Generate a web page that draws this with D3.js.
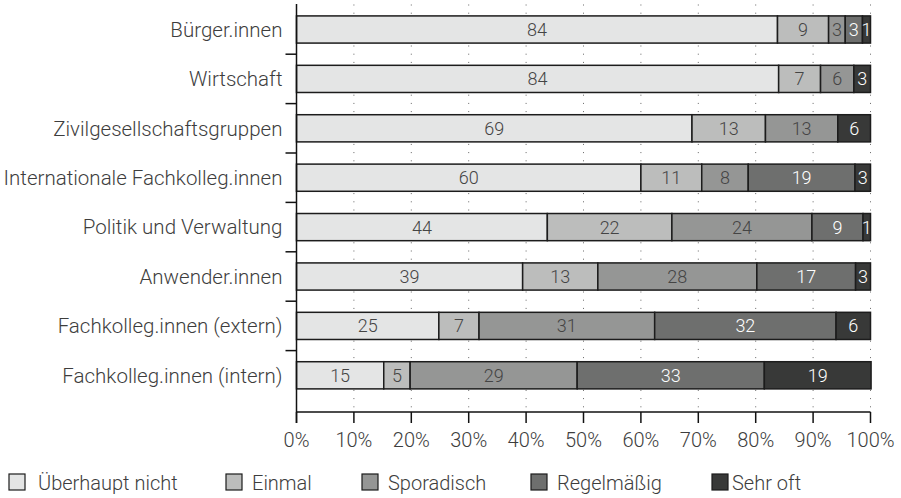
<!DOCTYPE html>
<html>
<head>
<meta charset="utf-8">
<script src="https://cdn.jsdelivr.net/npm/d3@7"></script>
<style>
  body { margin: 0; background: #fff; }
  text { font-family: Roboto, "Liberation Sans", sans-serif; font-weight: 300; }
</style>
</head>
<body>
<div id="chart"></div>
<script>
// categories, top to bottom
var categories = [
    "Bürger.innen",
    "Wirtschaft",
    "Zivilgesellschaftsgruppen",
    "Internationale Fachkolleg.innen",
    "Politik und Verwaltung",
    "Anwender.innen",
    "Fachkolleg.innen (extern)",
    "Fachkolleg.innen (intern)"
];

var series = ["Überhaupt nicht", "Einmal", "Sporadisch", "Regelmäßig", "Sehr oft"];

// shares in percent, one array per series
var ueberhauptNicht = [83.8, 84.0, 68.9, 60.0, 43.7, 39.4, 24.8, 15.2];
var einmal          = [8.9, 7.3, 12.8, 10.6, 21.7, 13.1, 7.0, 4.6];
var sporadisch      = [2.9, 5.8, 12.6, 8.1, 24.4, 27.7, 30.6, 29.1];
var regelmaessig    = [3.0, 0, 0, 18.6, 8.9, 17.2, 31.6, 32.6];
var sehrOft         = [1.4, 2.9, 5.7, 2.7, 1.3, 2.6, 6.0, 18.6];

var xTicks = [0, 10, 20, 30, 40, 50, 60, 70, 80, 90, 100];

var fills = ["#e4e5e5", "#bcbdbc", "#959695", "#6e6f6e", "#383938"];
var labelColors = ["#444", "#444", "#444", "#ffffff", "#ffffff"];

var width = 901, height = 498;
var svg = d3.select("#chart").append("svg")
    .attr("width", width)
    .attr("height", height);

var rows = categories.map(function (c, i) {
    return {
        name: c,
        "Überhaupt nicht": ueberhauptNicht[i],
        "Einmal": einmal[i],
        "Sporadisch": sporadisch[i],
        "Regelmäßig": regelmaessig[i],
        "Sehr oft": sehrOft[i]
    };
});

var stacked = d3.stack().keys(series)(rows);

var x = d3.scaleLinear().domain([0, 100]).range([296.5, 870.5]);
var y = d3.scaleBand()
    .domain(categories)
    .range([4.8, 400])
    .paddingInner(0.45)
    .paddingOuter(0.225);

var axisBottom = 412;

// dotted vertical grid
svg.append("g")
    .selectAll("line")
    .data(xTicks.slice(1))
    .enter()
    .append("line")
    .attr("x1", function (d) { return x(d); })
    .attr("x2", function (d) { return x(d); })
    .attr("y1", 4.5)
    .attr("y2", axisBottom)
    .attr("stroke", "#666")
    .attr("stroke-width", 1)
    .attr("stroke-dasharray", "1,7.2");

// bars
var layer = svg.append("g")
    .selectAll("g")
    .data(stacked)
    .enter()
    .append("g")
    .attr("fill", function (d, i) { return fills[i]; });

layer.selectAll("rect")
    .data(function (d) { return d.filter(function (p) { return p[1] - p[0] > 0; }); })
    .enter()
    .append("rect")
    .attr("x", function (d) { return x(d[0]); })
    .attr("y", function (d) { return y(d.data.name); })
    .attr("width", function (d) { return x(d[1]) - x(d[0]); })
    .attr("height", y.bandwidth())
    .attr("stroke", "#1c1c1c")
    .attr("stroke-width", 1.5);

layer.each(function (s, si) {
    d3.select(this).selectAll("text")
        .data(s.filter(function (p) { return p[1] - p[0] > 0; }))
        .enter()
        .append("text")
        .attr("x", function (d) { return (x(d[0]) + x(d[1])) / 2; })
        .attr("y", function (d) { return y(d.data.name) + y.bandwidth() / 2; })
        .attr("dy", "0.36em")
        .attr("text-anchor", "middle")
        .attr("font-size", "18px")
        .attr("fill", labelColors[si])
        .text(function (d) { return Math.round(d[1] - d[0]); });
});

// left axis
var left = svg.append("g");
left.append("line")
    .attr("x1", x(0)).attr("x2", x(0))
    .attr("y1", 4).attr("y2", axisBottom + 11)
    .attr("stroke", "#111").attr("stroke-width", 1.5);

left.selectAll(".tick")
    .data(categories.slice(1))
    .enter()
    .append("line")
    .attr("class", "tick")
    .attr("x1", x(0) - 11).attr("x2", x(0))
    .attr("y1", function (d) { return y(d) - y.step() * y.paddingInner() / 2; })
    .attr("y2", function (d) { return y(d) - y.step() * y.paddingInner() / 2; })
    .attr("stroke", "#111").attr("stroke-width", 1.5);

left.selectAll("text")
    .data(categories)
    .enter()
    .append("text")
    .attr("x", x(0) - 14)
    .attr("y", function (d) { return y(d) + y.bandwidth() / 2; })
    .attr("dy", "0.36em")
    .attr("text-anchor", "end")
    .attr("font-size", "20.5px")
    .attr("fill", "#3d3d3d")
    .text(function (d) { return d; });

// bottom axis
var bottom = svg.append("g");
bottom.append("line")
    .attr("x1", x(0)).attr("x2", x(100))
    .attr("y1", axisBottom).attr("y2", axisBottom)
    .attr("stroke", "#111").attr("stroke-width", 1.5);

bottom.selectAll(".tick")
    .data(xTicks)
    .enter()
    .append("line")
    .attr("class", "tick")
    .attr("x1", function (d) { return x(d); })
    .attr("x2", function (d) { return x(d); })
    .attr("y1", axisBottom)
    .attr("y2", axisBottom + 11)
    .attr("stroke", "#111").attr("stroke-width", 1.5);

bottom.selectAll("text")
    .data(xTicks)
    .enter()
    .append("text")
    .attr("x", function (d) { return x(d); })
    .attr("y", 447)
    .attr("text-anchor", "middle")
    .attr("font-size", "20px")
    .attr("fill", "#3d3d3d")
    .text(function (d) { return d + "%"; });

// legend
var legendX = [9, 226, 362, 531, 712];
var legendGap = [12, 9, 9, 9, 3];
var legend = svg.append("g")
    .selectAll("g")
    .data(series)
    .enter()
    .append("g")
    .attr("transform", function (d, i) { return "translate(" + legendX[i] + ",474)"; });

legend.append("rect")
    .attr("width", 16)
    .attr("height", 16)
    .attr("fill", function (d, i) { return fills[i]; })
    .attr("stroke", "#1c1c1c")
    .attr("stroke-width", 1.2);

legend.append("text")
    .attr("x", function (d, i) { return 17 + legendGap[i]; })
    .attr("y", 16)
    .attr("font-size", "20px")
    .attr("fill", "#3d3d3d")
    .text(function (d) { return d; });
</script>
</body>
</html>
